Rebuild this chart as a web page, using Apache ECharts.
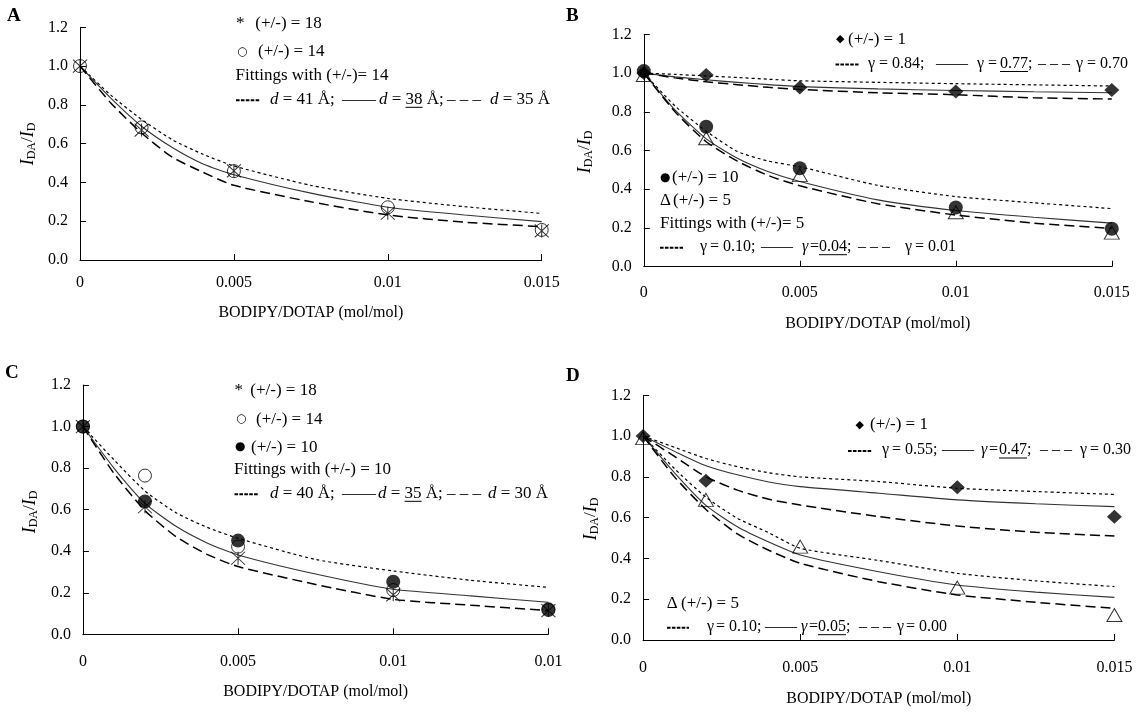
<!DOCTYPE html>
<html><head><meta charset="utf-8">
<script src="https://cdn.jsdelivr.net/npm/echarts@6/dist/echarts.min.js"></script>
<style>html,body{margin:0;padding:0;background:#fff}#c{width:1143px;height:714px}</style>
</head><body><div id="c"></div>
<script>
// ---------- data ----------
const xTickLabelsABD = ['0', '0.005', '0.01', '0.015'];
const xTickLabelsC = ['0', '0.005', '0.01', '0.01'];
const xData = [0, 0.002, 0.005, 0.01, 0.015];
const xDataD1 = [0, 0.002, 0.01, 0.015];
const xFit = [0, 0.001, 0.002, 0.003, 0.004, 0.005, 0.0075, 0.01, 0.0125, 0.015];

// Panel A
const a18 = [1.0, 0.67, 0.46, 0.241, 0.15];
const a14 = [1.0, 0.684, 0.458, 0.272, 0.155];
const fitA41 = [1.0, 0.85, 0.725, 0.62, 0.545, 0.485, 0.385, 0.318, 0.275, 0.24];
const fitA38 = [1.0, 0.835, 0.69, 0.58, 0.495, 0.44, 0.345, 0.272, 0.232, 0.198];
const fitA35 = [1.0, 0.81, 0.655, 0.53, 0.452, 0.385, 0.3, 0.232, 0.195, 0.172];

// Panel B
const b1 = [1.0, 0.99, 0.925, 0.905, 0.912];
const b10 = [1.01, 0.723, 0.508, 0.306, 0.196];
const b5 = [0.99, 0.663, 0.473, 0.281, 0.176];
const fitB84 = [1.0, 0.993, 0.985, 0.977, 0.968, 0.96, 0.952, 0.945, 0.939, 0.933];
const fitB77 = [1.0, 0.98, 0.965, 0.952, 0.94, 0.93, 0.918, 0.91, 0.903, 0.898];
const fitB70 = [1.0, 0.975, 0.955, 0.94, 0.926, 0.915, 0.898, 0.888, 0.872, 0.866];
const fitB10 = [1.0, 0.83, 0.70, 0.595, 0.545, 0.516, 0.42, 0.362, 0.33, 0.30];
const fitB04 = [1.0, 0.81, 0.66, 0.56, 0.49, 0.44, 0.345, 0.29, 0.255, 0.225];
const fitB01 = [1.0, 0.80, 0.645, 0.545, 0.47, 0.418, 0.325, 0.267, 0.225, 0.198];

// Panel C
const c18 = [1.0, 0.614, 0.366, 0.19, 0.114];
const c14 = [1.0, 0.764, 0.422, 0.213, 0.117];
const c10 = [1.0, 0.639, 0.451, 0.253, 0.12];
const fitC40 = [1.0, 0.84, 0.69, 0.585, 0.515, 0.462, 0.36, 0.305, 0.26, 0.226];
const fitC35 = [1.0, 0.80, 0.63, 0.52, 0.44, 0.382, 0.29, 0.217, 0.185, 0.154];
const fitC30 = [1.0, 0.775, 0.595, 0.47, 0.385, 0.326, 0.24, 0.168, 0.14, 0.114];

// Panel D
const d1 = [1.0, 0.781, 0.749, 0.605];
const d5 = [0.99, 0.687, 0.458, 0.257, 0.123];
const fitD55 = [1.0, 0.945, 0.89, 0.85, 0.82, 0.80, 0.777, 0.744, 0.728, 0.714];
const fitD47 = [1.0, 0.925, 0.855, 0.81, 0.775, 0.752, 0.72, 0.687, 0.668, 0.654];
const fitD30 = [1.0, 0.90, 0.80, 0.735, 0.69, 0.662, 0.605, 0.559, 0.528, 0.51];
const fitD10 = [1.0, 0.84, 0.70, 0.597, 0.526, 0.45, 0.39, 0.327, 0.29, 0.262];
const fitD05 = [1.0, 0.82, 0.66, 0.555, 0.48, 0.417, 0.335, 0.27, 0.235, 0.209];
const fitD00 = [1.0, 0.80, 0.64, 0.52, 0.44, 0.376, 0.286, 0.221, 0.185, 0.155];

// ---------- helpers ----------
const SERIF = 'Liberation Serif';
const ctx = document.createElement('canvas').getContext('2d');
function measure(t, s) {
  ctx.font = (s.it ? 'italic ' : '') + (s.b ? 'bold ' : '') + s.fs + 'px "' + s.ff + '"';
  return ctx.measureText(t).width;
}
// segs: {t, at, it, b, u, g (glyph), fs, dy, dash(width)}
function textLine(x, y, segs, defFs) {
  const out = [];
  let cx = x;
  segs.forEach(sg => {
    if (sg.at !== undefined) cx = sg.at;
    if (sg.dash) {
      out.push({ type: 'line', silent: true, shape: { x1: cx, y1: y + 1, x2: cx + sg.dash, y2: y + 1 },
        style: { stroke: '#000', lineWidth: 2, lineDash: [3.6, 1.3] } });
      cx += sg.dash;
      return;
    }
    const s = { fs: sg.fs || defFs || 17, ff: sg.g ? 'DejaVu Sans' : SERIF, it: !!sg.it, b: !!sg.b };
    const w = measure(sg.t, s);
    out.push({
      type: 'text', x: cx, y: y + (sg.dy || 0), silent: true,
      style: {
        text: sg.t, fill: '#000', fontSize: s.fs, fontFamily: s.ff,
        fontStyle: s.it ? 'italic' : 'normal', fontWeight: s.b ? 'bold' : 'normal',
        align: 'left', verticalAlign: 'middle', textAlign: 'left', textVerticalAlign: 'middle'
      }
    });
    if (sg.u) out.push({ type: 'line', silent: true, shape: { x1: cx, y1: y + 8, x2: cx + w, y2: y + 8 }, style: { stroke: '#000', lineWidth: 1 } });
    cx += w;
  });
  return { els: out, width: cx - x };
}
function yName(cx, cy) {
  const segs = [{ t: 'I', it: true, fs: 18 }, { t: 'DA', fs: 12, dy: 4 }, { t: '/', fs: 17 }, { t: 'I', it: true, fs: 18 }, { t: 'D', fs: 12, dy: 4 }];
  const tmp = textLine(0, 0, segs);
  const line = textLine(-tmp.width / 2, 0, segs);
  return { type: 'group', x: cx, y: cy, rotation: Math.PI / 2, children: line.els };
}
function letter(t, x, y) {
  return { type: 'text', x: x, y: y, silent: true, style: { text: t, fill: '#000', fontSize: 19, fontWeight: 'bold', fontFamily: SERIF, align: 'left', verticalAlign: 'middle', textAlign: 'left', textVerticalAlign: 'middle' } };
}

const styles = {
  dot: { type: [3, 3], width: 1.2, color: '#000' },
  solid: { type: 'solid', width: 1.1, color: '#333' },
  dash: { type: [10, 5], width: 1.5, color: '#000' }
};
const markers = {
  star: { symbol: 'path://M0,0L10,10M10,0L0,10M5,0L5,10', symbolSize: [14, 13], itemStyle: { color: 'rgba(0,0,0,0)', borderColor: '#000', borderWidth: 1 } },
  ocircle: { symbol: 'circle', symbolSize: 13, itemStyle: { color: 'rgba(0,0,0,0)', borderColor: '#000', borderWidth: 1 } },
  dot: { symbol: 'circle', symbolSize: 14, itemStyle: { color: '#000' } },
  diamond: { symbol: 'diamond', symbolSize: [15, 14], itemStyle: { color: '#000' } },
  tri: { symbol: 'triangle', symbolSize: [15, 13], itemStyle: { color: 'rgba(0,0,0,0)', borderColor: '#000', borderWidth: 1 } }
};
function lineS(p, ys, kind) {
  return { type: 'line', xAxisIndex: p, yAxisIndex: p, data: xFit.map((x, i) => [x, ys[i]]), showSymbol: false, symbol: 'none', smooth: 0.2, lineStyle: styles[kind], silent: true, z: 2 };
}
function ptS(p, xs, ys, mk) {
  return Object.assign({ type: 'scatter', xAxisIndex: p, yAxisIndex: p, data: xs.map((x, i) => [x, ys[i]]), silent: true, z: 3 }, markers[mk]);
}

const grids = [
  { left: 80, top: 27.3, width: 461.7, height: 232.7 },
  { left: 643.8, top: 34.3, width: 468, height: 232.4 },
  { left: 82.9, top: 385, width: 465.5, height: 249.3 },
  { left: 643.1, top: 395.3, width: 471.3, height: 244.7 }
];
const xLabelMargins = [15, 18, 19, 20];
const xNameGaps = [45, 48.6, 49.4, 50.3];
const tickFont = { fontFamily: SERIF, fontSize: 16, color: '#000' };

const xAxes = grids.map((g, i) => ({
  type: 'value', gridIndex: i, min: 0, max: 0.015, interval: 0.005,
  name: 'BODIPY/DOTAP (mol/mol)', nameLocation: 'middle', nameGap: xNameGaps[i],
  nameTextStyle: { fontFamily: SERIF, fontSize: 16, color: '#000' },
  axisLine: { lineStyle: { color: '#000', width: 1 } },
  axisTick: { inside: true, length: 6, lineStyle: { color: '#000' } },
  splitLine: { show: false },
  axisLabel: Object.assign({ margin: xLabelMargins[i], showMinLabel: true, showMaxLabel: true,
    formatter: v => (i === 2 ? xTickLabelsC : xTickLabelsABD)[Math.round(v / 0.005)] }, tickFont)
}));
const yAxes = grids.map((g, i) => ({
  type: 'value', gridIndex: i, min: 0, max: 1.2, interval: 0.2,
  axisLine: { show: true, lineStyle: { color: '#000', width: 1 } },
  axisTick: { show: true, inside: true, length: 6, lineStyle: { color: '#000' } },
  splitLine: { show: false },
  axisLabel: Object.assign({ margin: 12, formatter: v => v.toFixed(1) }, tickFont)
}));

const series = [
  // A
  lineS(0, fitA41, 'dot'), lineS(0, fitA38, 'solid'), lineS(0, fitA35, 'dash'),
  ptS(0, xData, a18, 'star'), ptS(0, xData, a14, 'ocircle'),
  // B
  lineS(1, fitB84, 'dot'), lineS(1, fitB77, 'solid'), lineS(1, fitB70, 'dash'),
  lineS(1, fitB10, 'dot'), lineS(1, fitB04, 'solid'), lineS(1, fitB01, 'dash'),
  ptS(1, xData, b5, 'tri'), ptS(1, xData, b10, 'dot'), ptS(1, xData, b1, 'diamond'),
  // C
  lineS(2, fitC40, 'dot'), lineS(2, fitC35, 'solid'), lineS(2, fitC30, 'dash'),
  ptS(2, xData, c18, 'star'), ptS(2, xData, c14, 'ocircle'), ptS(2, xData, c10, 'dot'),
  // D
  lineS(3, fitD55, 'dot'), lineS(3, fitD47, 'solid'), lineS(3, fitD30, 'dash'),
  lineS(3, fitD10, 'dot'), lineS(3, fitD05, 'solid'), lineS(3, fitD00, 'dash'),
  ptS(3, xData, d5, 'tri'), ptS(3, xDataD1, d1, 'diamond')
];

// ---------- annotations ----------
let g = [];
function add(x, y, segs, fs) { g = g.concat(textLine(x, y, segs, fs).els); }
g.push(letter('A', 7, 16), letter('B', 566, 16), letter('C', 5, 373), letter('D', 566, 376));
g.push(yName(28, 144), yName(585, 152), yName(30, 512), yName(591, 519));

// A legend
add(236, 23.3, [{ t: '*' }, { t: ' (+/-) = 18', at: 251 }]);
add(236, 51.7, [{ t: '○', g: true, fs: 12, at: 237 }, { t: '(+/-) = 14', at: 258 }]);
add(235.6, 76, [{ t: 'Fittings with (+/-)= 14' }]);
add(236, 99.3, [{ dash: 24 }, { t: 'd', it: true, at: 270 }, { t: ' = 41 Å;' },
  { t: '——', at: 342 }, { t: ' ' }, { t: 'd', it: true, at: 379 }, { t: ' = ' }, { t: '38', u: true }, { t: ' Å;' },
  { t: '– – –', at: 447 }, { t: ' ' }, { t: 'd', it: true, at: 490 }, { t: ' = 35 Å' }]);

// B legend
add(836, 39.5, [{ t: '◆', g: true, fs: 11 }, { t: '(+/-) = 1', at: 848 }]);
add(835.5, 63.5, [{ dash: 23 }, { t: 'γ', at: 868 }, { t: '= 0.84;', at: 879 }, { t: '——', at: 936 },
  { t: 'γ', at: 977 }, { t: '=', at: 988 }, { t: '0.77', u: true, at: 1000 }, { t: ';' },
  { t: '– – –', at: 1038 }, { t: 'γ', at: 1076 }, { t: '= 0.70', at: 1087 }], 16);
add(660, 178, [{ t: '●', g: true, fs: 12 }, { t: '(+/-) = 10', at: 672 }]);
add(660, 201, [{ t: 'Δ' }, { t: '(+/-) = 5', at: 673 }]);
add(660, 223.5, [{ t: 'Fittings with (+/-)= 5' }]);
add(660, 246.7, [{ dash: 23 }, { t: 'γ', at: 700 }, { t: '= 0.10;', at: 710 }, { t: '——', at: 761 },
  { t: 'γ', it: true, at: 802 }, { t: '=', at: 810 }, { t: '0.04', u: true, at: 819 }, { t: ';' },
  { t: '– – –', at: 858 }, { t: 'γ', at: 905 }, { t: '= 0.01', at: 915 }], 16);

// C legend
add(234.5, 390.7, [{ t: '*' }, { t: ' (+/-) = 18', at: 246 }]);
add(236, 419.3, [{ t: '○', g: true, fs: 12, at: 236 }, { t: '(+/-) = 14', at: 256 }]);
add(236, 447.3, [{ t: '●', g: true, fs: 12, at: 235 }, { t: '(+/-) = 10', at: 251 }]);
add(234, 470, [{ t: 'Fittings with (+/-) = 10' }]);
add(234.5, 493.3, [{ dash: 24 }, { t: 'd', it: true, at: 270 }, { t: ' = 40 Å;' },
  { t: '——', at: 342 }, { t: ' ' }, { t: 'd', it: true, at: 378 }, { t: ' = ' }, { t: '35', u: true }, { t: ' Å;' },
  { t: '– – –', at: 447 }, { t: ' ' }, { t: 'd', it: true, at: 488 }, { t: ' = 30 Å' }]);

// D legend
add(855.5, 425, [{ t: '◆', g: true, fs: 11 }, { t: '(+/-) = 1', at: 870 }]);
add(848, 450, [{ dash: 24 }, { t: 'γ', at: 882 }, { t: '= 0.55;', at: 892 }, { t: '——', at: 942 },
  { t: 'γ', it: true, at: 981 }, { t: '=', at: 989 }, { t: '0.47', u: true, at: 999 }, { t: ';' },
  { t: '– – –', at: 1040 }, { t: 'γ', at: 1080 }, { t: '= 0.30', at: 1090 }], 16);
add(666.7, 603.3, [{ t: 'Δ' }, { t: '(+/-) = 5', at: 681 }]);
add(667, 626.7, [{ dash: 22 }, { t: 'γ', at: 707 }, { t: '= 0.10;', at: 716 }, { t: '——', at: 765 },
  { t: 'γ', it: true, at: 801 }, { t: '=', at: 809 }, { t: '0.05', u: true, at: 818 }, { t: ';' },
  { t: '– – –', at: 859 }, { t: 'γ', at: 897 }, { t: '= 0.00', at: 906 }], 16);

const chart = echarts.init(document.getElementById('c'), null, { renderer: 'canvas' });
chart.setOption({
  animation: false,
  backgroundColor: '#fff',
  grid: grids,
  xAxis: xAxes,
  yAxis: yAxes,
  series: series,
  graphic: { elements: g }
});
</script>
</body></html>
